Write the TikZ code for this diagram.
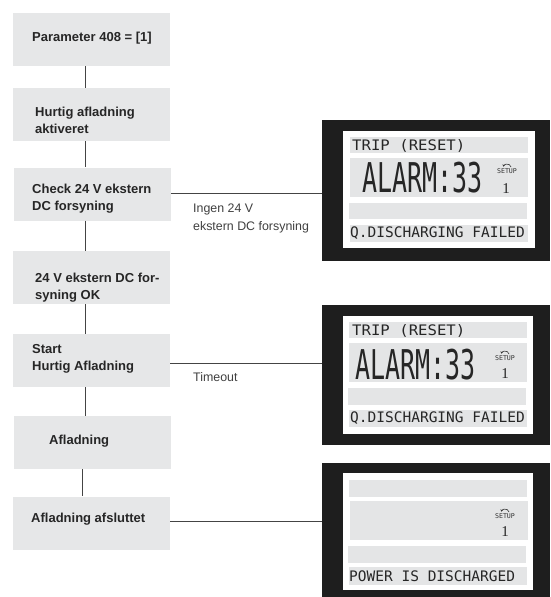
\documentclass[tikz,border=0pt]{standalone}
\usepackage{fontspec}
\setmainfont{Liberation Sans}
\newfontfamily\lcdfont{DejaVu Sans Mono}
\newfontfamily\serifnum{Liberation Serif}
\usetikzlibrary{arrows.meta}
\definecolor{boxgray}{HTML}{E6E7E8}
\definecolor{bargray}{HTML}{E4E5E6}
\definecolor{linegray}{HTML}{444444}
\definecolor{lcdblack}{HTML}{1E1E1E}
\tikzset{
  box/.style={fill=boxgray, draw=none, minimum width=157pt, minimum height=53pt, inner sep=0pt},
  boxtext/.style={font=\bfseries\fontsize{13}{17}\selectfont, text=black!85, align=left, anchor=west, inner sep=0pt},
  conn/.style={draw=linegray, line width=0.9pt},
  lbl/.style={font=\fontsize{12.4}{18}\selectfont, text=black!75, align=left, anchor=west, inner sep=0pt},
  lcdsmall/.style={font=\lcdfont\fontsize{14.5}{15}\selectfont, anchor=west, inner sep=0pt, text=black!85},
  lcdbig/.style={font=\lcdfont\fontsize{41}{41}\selectfont, anchor=west, inner sep=0pt, text=black!85},
  setuptxt/.style={font=\lcdfont\fontsize{6.6}{7}\selectfont, inner sep=0pt, text=black!80},
  onetxt/.style={font=\serifnum\fontsize{15}{15}\selectfont, inner sep=0pt, text=black!85},
}
\newcommand{\setupicon}[2]{%
  \node[setuptxt] at (#1,#2) {SETUP};
  \draw[black!80, line width=0.6pt, -{Stealth[length=2.2pt,width=2.6pt]}] (#1+4,#2-4) arc (-10:-165:4 and 3.6);
}
\begin{document}
\begin{tikzpicture}[x=1pt,y=-1pt]
\useasboundingbox (0,0) rectangle (550,597);
\fill[white] (0,0) rectangle (550,597);

% left boxes
\node[box] (b1) at (91.5,39.5) {};
\node[box] (b2) at (91.5,114.5) {};
\node[box] (b3) at (92.5,194) {};
\node[box] (b4) at (91.5,277.5) {};
\node[box] (b5) at (91.5,360.5) {};
\node[box] (b6) at (92.5,442.5) {};
\node[box] (b7) at (91.5,523) {};

\node[boxtext] (t1) at (32,38) {Parameter 408 = [1]};
\node[boxtext] (t2) at (35,120.5) {Hurtig afladning\\aktiveret};
\node[boxtext] (t3) at (32,198.5) {Check 24 V ekstern\\DC forsyning};
\node[boxtext] (t4) at (35,288) {24 V ekstern DC for-\\syning OK};
\node[boxtext] (t5) at (32,358.5) {Start\\Hurtig Afladning};
\node[boxtext] (t6) at (49,441) {Afladning};
\node[boxtext] (t7) at (31,519) {Afladning afsluttet};

% vertical connectors
\coordinate (vx) at (85,0);
\coordinate (vy) at (82,0);
\draw[conn] (b1.south -| vx) -- (b2.north -| vx);
\draw[conn] (b2.south -| vx) -- (b3.north -| vx);
\draw[conn] (b3.south -| vx) -- (b4.north -| vx);
\draw[conn] (b4.south -| vx) -- (b5.north -| vx);
\draw[conn] (b5.south -| vx) -- (b6.north -| vx);
\draw[conn] (b6.south -| vy) -- (b7.north -| vy);

% displays (outer frames)
\fill[lcdblack] (322,120) rectangle (550,261);
\fill[white] (343,131) rectangle (535,248);
\coordinate (d1) at (322,193);
\fill[lcdblack] (322,305) rectangle (550,445);
\fill[white] (343,316) rectangle (533,434);
\coordinate (d2) at (322,363);
\fill[lcdblack] (322,463) rectangle (550,597);
\fill[white] (343,473) rectangle (533,590);
\coordinate (d3) at (322,521);

% horizontal connectors
\draw[conn] (d1 -| b3.east) -- (d1);
\draw[conn] (d2 -| b5.east) -- (d2);
\draw[conn] (d3 -| b7.east) -- (d3);

\node[lbl] (l1) at (193,218) {Ingen 24 V\\ekstern DC forsyning};
\node[lbl] (l2) at (193,377) {Timeout};

% display 1 bars
\fill[bargray] (350,137) rectangle (528,153);
\fill[bargray] (350,158) rectangle (528,197);
\fill[bargray] (349,203) rectangle (527,219);
\fill[bargray] (350,225) rectangle (528,242);
\node[lcdsmall] (a1) at (352,145.5) {\scalebox{1.08}[1]{TRIP (RESET)}};
\node[lcdbig] (a2) at (362,177.5) {\scalebox{0.61}[1]{ALARM:33}};
\setupicon{507}{171}
\node[onetxt] (a3) at (506,189) {1};
\node[lcdsmall] (a4) at (350,233.5) {Q.DISCHARGING FAILED};

% display 2 bars
\fill[bargray] (349,322) rectangle (527,338);
\fill[bargray] (349,343) rectangle (527,382);
\fill[bargray] (348,388) rectangle (526,405);
\fill[bargray] (349,410) rectangle (527,427);
\node[lcdsmall] (c1) at (352,330.5) {\scalebox{1.08}[1]{TRIP (RESET)}};
\node[lcdbig] (c2) at (355,365) {\scalebox{0.61}[1]{ALARM:33}};
\setupicon{505}{358}
\node[onetxt] (c3) at (505,374) {1};
\node[lcdsmall] (c4) at (350,418.5) {Q.DISCHARGING FAILED};

% display 3 bars
\fill[bargray] (349,480) rectangle (527,497);
\fill[bargray] (350,501) rectangle (528,540);
\fill[bargray] (348,546) rectangle (526,563);
\fill[bargray] (349,567) rectangle (527,585);
\setupicon{505}{516}
\node[onetxt] (e3) at (505,532) {1};
\node[lcdsmall] (e4) at (349,576) {POWER IS DISCHARGED};
\end{tikzpicture}
\end{document}
